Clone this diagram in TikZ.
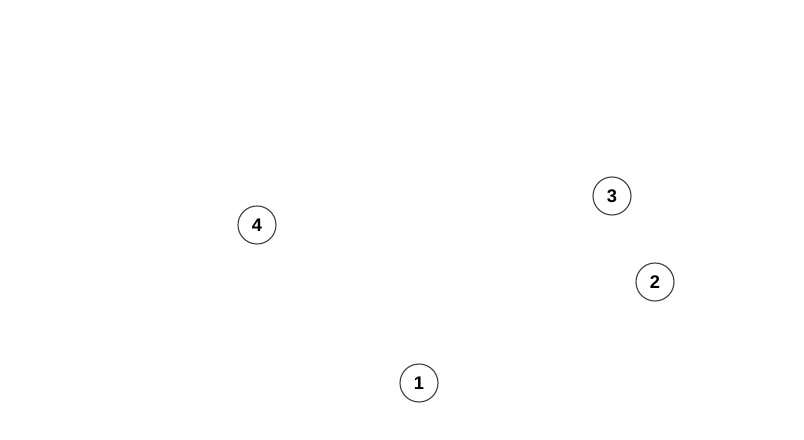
\documentclass[tikz,border=0pt]{standalone}
\usepackage{fontspec}
\setmainfont{Liberation Sans}
\usepackage{tikz}
\usetikzlibrary{
  positioning,
  backgrounds
}

\begin{document}
\begin{tikzpicture}[
      x=0.025cm,y=0.025cm,
      station/.style={
         circle,
         minimum size=0.95cm,
         inner sep=0pt,
         thick,
         draw=black!75,
         fill=white,
         font=\bfseries\fontsize{13}{15}\selectfont
      },
    ]
    \useasboundingbox (0,0) rectangle (804,440);
    \node (n1) [station] at (419,57) {1};
    \node (n2) [station] at (655,158) {2};
    \node (n3) [station] at (612,244) {3};
    \node (n4) [station] at (257,215) {4};
\end{tikzpicture}
\end{document}
